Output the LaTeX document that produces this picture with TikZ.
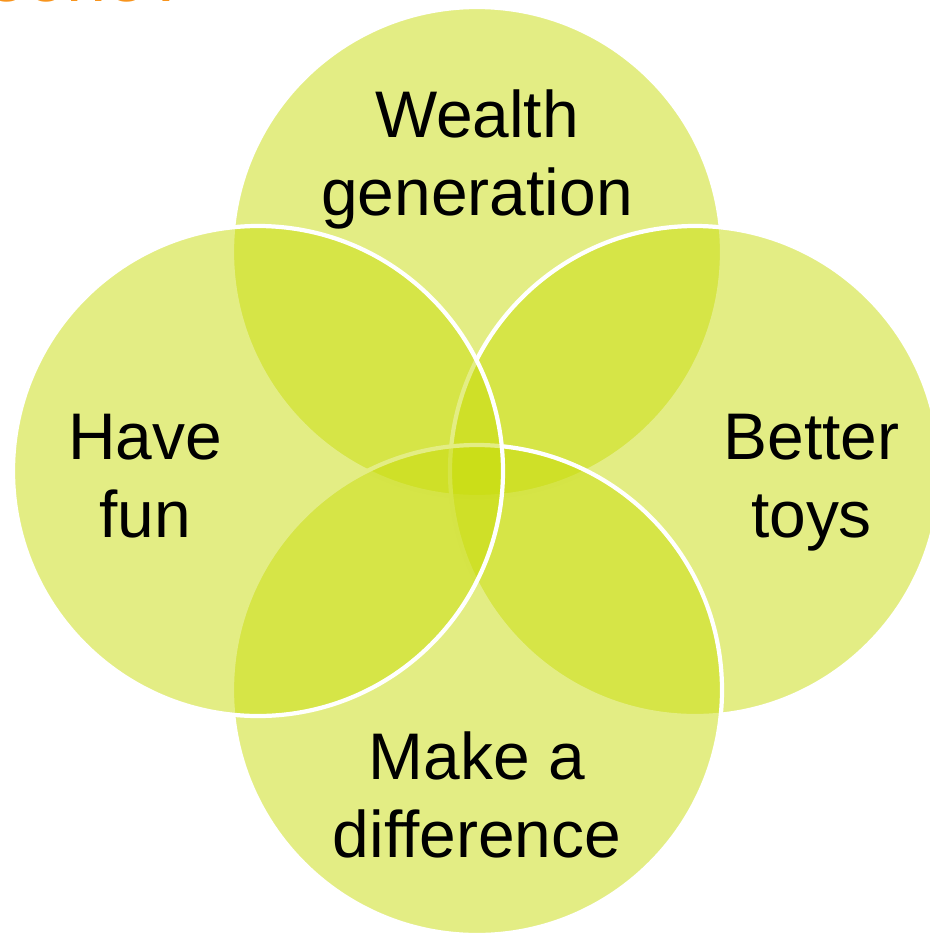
\documentclass[tikz,border=0pt]{standalone}
\usepackage{fontspec}
\setmainfont{Liberation Sans}
\usetikzlibrary{shapes}
\definecolor{venngreen}{RGB}{200,220,10}
\definecolor{titleorange}{RGB}{247,148,29}

\begin{document}
\begin{tikzpicture}[
    vennset/.style={circle,minimum size=9.8cm,inner sep=0pt,fill=venngreen,fill opacity=0.5,draw=white,line width=2.4pt},
    venntext/.style={align=center,inner sep=0pt,font=\fontsize{37.5}{44}\selectfont,anchor=base}
]
        % 页面范围
        \useasboundingbox (0,0) rectangle (18.6,-18.7);

        % 标题（只露出下沿）
        \node[text=titleorange,inner sep=0pt,font=\fontsize{41}{48}\selectfont,anchor=base east] (title) at (3.75,-0.02) {someone?};

        % 四个集合，依次叠放
        \node[vennset] (wealthset) at (9.54,-5.04) {};
        \node[vennset] (toysset) at (13.9,-9.42) {};
        \node[vennset] (diffset) at (9.54,-13.8) {};
        \node[vennset] (funset) at (5.16,-9.42) {};

        % 添加标签（基线取最后一行）
        \node[venntext] (wealth) at (9.54,-4.3) {Wealth\\generation};
        \node[venntext] (fun) at (2.9,-10.74) {Have\\fun};
        \node[venntext] (toys) at (16.23,-10.74) {Better\\toys};
        \node[venntext] (diff) at (9.54,-17.14) {Make a\\difference};
\end{tikzpicture}
\end{document}
